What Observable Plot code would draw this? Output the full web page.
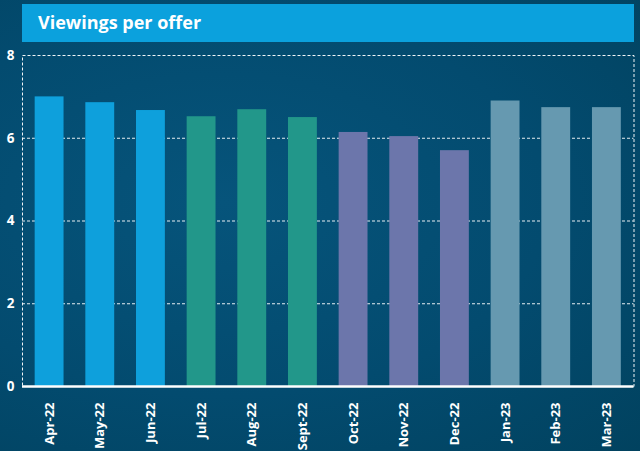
<!DOCTYPE html>
<html><head><meta charset="utf-8">
<script src="https://cdn.jsdelivr.net/npm/d3@7"></script>
<script src="https://cdn.jsdelivr.net/npm/@observablehq/plot@0.6"></script>
<style>
html,body{margin:0;padding:0;}
body{width:640px;height:451px;overflow:hidden;position:relative;background:radial-gradient(ellipse at 35% 45%, #06547b 0%, #034b6f 55%, #01425f 100%);font-family:"Open Sans",sans-serif;}
#banner{position:absolute;left:22px;top:4px;width:612px;height:38px;background:#0ba1dd;color:#fff;font-weight:700;font-size:18px;line-height:37px;padding-left:16px;box-sizing:border-box;}
#chart{position:absolute;left:0;top:42px;}
</style></head>
<body><div id="banner">Viewings per offer</div><div id="chart"></div>
<script>
const months = ["Apr-22","May-22","Jun-22","Jul-22","Aug-22","Sept-22","Oct-22","Nov-22","Dec-22","Jan-23","Feb-23","Mar-23"];
const values = [7.0, 6.86, 6.67, 6.52, 6.69, 6.5, 6.14, 6.04, 5.7, 6.9, 6.74, 6.74];
const quarters = ["Q1","Q1","Q1","Q2","Q2","Q2","Q3","Q3","Q3","Q4","Q4","Q4"];
const quarterNames = ["Q1","Q2","Q3","Q4"];
const quarterColors = ["#0ea0dc","#22978a","#6c76ab","#6699b0"];
const yTicks = [0,2,4,6,8];
const gridTicks = [2,4,6];

const data = months.map((m,i)=>({month:m, value:values[i], quarter:quarters[i]}));

const chart = Plot.plot({
  width:640, height:409,
  marginTop:13, marginBottom:65, marginLeft:22, marginRight:6.5,
  style:{background:"transparent", color:"#fff", fontFamily:"Open Sans, sans-serif"},
  x:{domain:months, paddingInner:0.43, paddingOuter:0.25, round:false},
  y:{domain:[0,8]},
  color:{domain:quarterNames, range:quarterColors},
  marks:[
    Plot.gridY(gridTicks, {stroke:"#fff", strokeOpacity:0.9, strokeDasharray:"3,2"}),
    Plot.frame({stroke:"#fff", strokeOpacity:0.95, strokeDasharray:"3,2"}),
    Plot.barY(data, {x:"month", y:"value", fill:"quarter"}),
    Plot.ruleY([0], {stroke:"#fff", strokeWidth:2.5}),
    Plot.axisX({tickRotate:-90, tickSize:0, tickPadding:16, fontSize:13, fontWeight:"bold", label:null}),
    Plot.axisY({ticks:yTicks, tickSize:0, tickPadding:8, fontSize:13.5, fontWeight:"bold", label:null})
  ]
});
document.getElementById("chart").appendChild(chart);
</script>
</body></html>
